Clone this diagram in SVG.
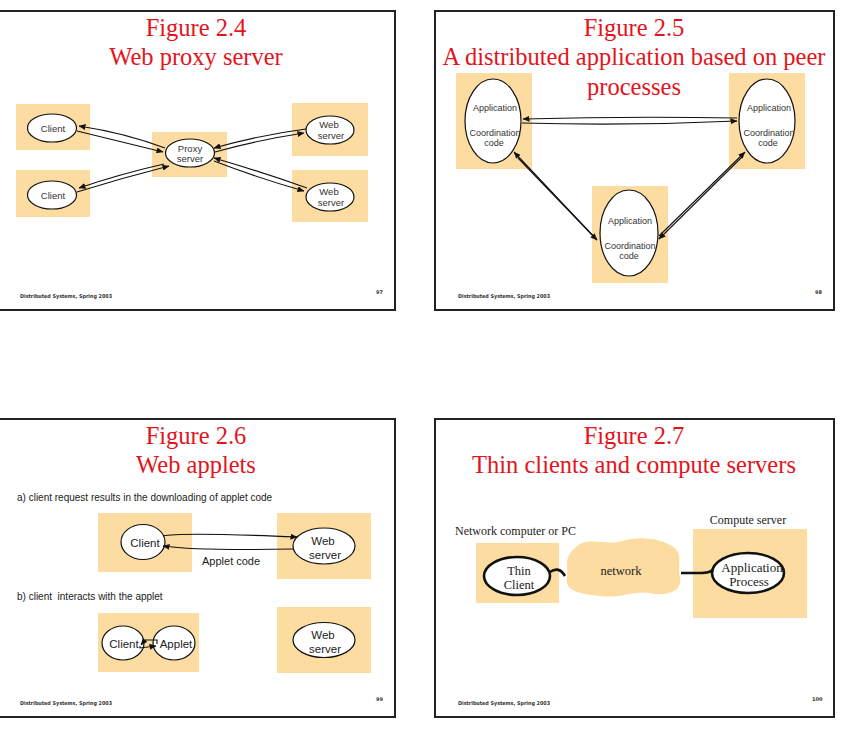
<svg xmlns="http://www.w3.org/2000/svg" width="844" height="739" viewBox="0 0 844 739">
<style>
.frame{fill:#fff;stroke:#222;stroke-width:2}
.box{fill:#FCDCA0}
.title{font-family:"Liberation Serif",serif;font-size:24.5px;fill:#E4141C;text-anchor:middle}
.lbl{font-family:"Liberation Sans",Arial,sans-serif;font-size:9.5px;fill:#333;text-anchor:middle}
.lbl2{font-family:"Liberation Sans",Arial,sans-serif;font-size:9px;fill:#333;text-anchor:middle}
.lbl3{font-family:"Liberation Sans",Arial,sans-serif;font-size:11.5px;fill:#222;text-anchor:middle}
.txt{font-family:"Liberation Sans",Arial,sans-serif;font-size:10px;fill:#222}
.serif{font-family:"Liberation Serif",serif;font-size:12px;fill:#222}
.foot{font-family:"DejaVu Sans",sans-serif;font-size:5.3px;font-weight:bold;fill:#333}
.pg{font-family:"DejaVu Sans",sans-serif;font-size:5px;font-weight:bold;fill:#333}
.ell{fill:#fff;stroke:#111;stroke-width:1.2}
.ellT{fill:#fff;stroke:#111;stroke-width:2.6}
.arr{fill:none;stroke:#111;stroke-width:1.1;marker-end:url(#ah)}
.wire{fill:none;stroke:#111;stroke-width:2.6}
</style>
<defs>
<marker id="ah" markerUnits="userSpaceOnUse" markerWidth="7" markerHeight="6" refX="6.5" refY="3" orient="auto">
<path d="M0,0 L7,3 L0,6 Z" fill="#111"/>
</marker>
</defs>

<!-- Slide 1 -->
<g id="slide1">
<rect class="frame" x="-2" y="11" width="397" height="299"/>
<text class="title" x="196" y="36">Figure 2.4</text>
<text class="title" x="196" y="65">Web proxy server</text>
<text class="foot" x="20" y="298" textLength="92" lengthAdjust="spacingAndGlyphs">Distributed Systems, Spring 2003</text>
<text class="pg" x="376" y="294">97</text>
</g>
<g id="s1-client1">
<rect class="box" x="16" y="104" width="74" height="46"/>
<ellipse class="ell" cx="52" cy="128" rx="24.5" ry="14"/>
<text class="lbl" x="53" y="131.5">Client</text>
</g>
<g id="s1-client2">
<rect class="box" x="16" y="170" width="74" height="47"/>
<ellipse class="ell" cx="52" cy="195" rx="24.5" ry="14"/>
<text class="lbl" x="53" y="198.5">Client</text>
</g>
<g id="s1-proxy">
<rect class="box" x="152" y="132" width="75" height="45"/>
<ellipse class="ell" cx="190" cy="153" rx="24.5" ry="14"/>
<text class="lbl" x="190" y="152">Proxy</text>
<text class="lbl" x="190" y="162">server</text>
</g>
<g id="s1-web1">
<rect class="box" x="292" y="103" width="76" height="53"/>
<ellipse class="ell" cx="330" cy="130" rx="24" ry="14"/>
<text class="lbl" x="329" y="128">Web</text>
<text class="lbl" x="331" y="139">server</text>
</g>
<g id="s1-web2">
<rect class="box" x="292" y="170" width="76" height="52"/>
<ellipse class="ell" cx="330" cy="197" rx="24" ry="14"/>
<text class="lbl" x="329" y="195">Web</text>
<text class="lbl" x="331" y="206">server</text>
</g>
<g id="s1-connectors">
<path class="arr" d="M165,148 Q125,133 79,126"/>
<path class="arr" d="M77,131 Q118,141 163,152"/>
<path class="arr" d="M164,164 Q120,174 79,188"/>
<path class="arr" d="M77,192 Q122,178 169,166"/>
<path class="arr" d="M306,129 Q260,135 214,148"/>
<path class="arr" d="M215,152 Q258,140 304,133"/>
<path class="arr" d="M307,188 Q262,172 214,158"/>
<path class="arr" d="M214,161 Q258,178 304,191"/>
</g>

<!-- Slide 2 -->
<g id="slide2">
<rect class="frame" x="435" y="11" width="399" height="299"/>
<text class="title" x="634" y="36">Figure 2.5</text>
<text class="title" x="634" y="65">A distributed application based on peer</text>
<text class="title" x="634" y="95">processes</text>
<text class="foot" x="458" y="298" textLength="92" lengthAdjust="spacingAndGlyphs">Distributed Systems, Spring 2003</text>
<text class="pg" x="815" y="294">98</text>
</g>
<g id="s2-left">
<rect class="box" x="456" y="73" width="76" height="96"/>
<ellipse class="ell" cx="493" cy="121" rx="28" ry="42"/>
<text class="lbl2" x="495" y="111">Application</text>
<text class="lbl2" x="495" y="136">Coordination</text>
<text class="lbl2" x="494" y="146">code</text>
</g>
<g id="s2-right">
<rect class="box" x="729" y="73" width="76" height="96"/>
<ellipse class="ell" cx="767" cy="121" rx="28" ry="42"/>
<text class="lbl2" x="769" y="111">Application</text>
<text class="lbl2" x="769" y="136">Coordination</text>
<text class="lbl2" x="768" y="146">code</text>
</g>
<g id="s2-bottom">
<rect class="box" x="592" y="186" width="76" height="97"/>
<ellipse class="ell" cx="629" cy="233" rx="29" ry="43"/>
<text class="lbl2" x="630" y="224">Application</text>
<text class="lbl2" x="630" y="249">Coordination</text>
<text class="lbl2" x="629" y="259">code</text>
</g>
<g id="s2-connectors">
<path class="arr" d="M737,118 Q630,116 523,119"/>
<path class="arr" d="M522,123 Q630,126 737,121"/>
<path class="arr" d="M597,240 L514,152"/>
<path class="arr" d="M518,158 L597,240"/>
<path class="arr" d="M659,236 L745,152"/>
<path class="arr" d="M742,157 L659,239"/>
</g>

<!-- Slide 3 -->
<g id="slide3">
<rect class="frame" x="-2" y="419" width="397" height="298"/>
<text class="title" x="196" y="444">Figure 2.6</text>
<text class="title" x="196" y="473">Web applets</text>
<text class="txt" x="17" y="501">a) client request results in the downloading of applet code</text>
<text class="txt" x="17" y="600" xml:space="preserve">b) client  interacts with the applet</text>
<text class="txt" x="202" y="565" style="font-size:11px">Applet code</text>
<text class="foot" x="20" y="705" textLength="92" lengthAdjust="spacingAndGlyphs">Distributed Systems, Spring 2003</text>
<text class="pg" x="376" y="701">99</text>
</g>
<g id="s3-client-a">
<rect class="box" x="98" y="513" width="94" height="59"/>
<ellipse class="ell" cx="143" cy="542" rx="22" ry="17.5"/>
<text class="lbl3" x="145" y="547">Client</text>
</g>
<g id="s3-web-a">
<rect class="box" x="277" y="513" width="94" height="66"/>
<ellipse class="ell" cx="324" cy="546" rx="31" ry="18"/>
<text class="lbl3" x="323" y="545">Web</text>
<text class="lbl3" x="325" y="559">server</text>
</g>
<g id="s3-client-b">
<rect class="box" x="98" y="613" width="101" height="59"/>
<ellipse class="ell" cx="123" cy="643" rx="21" ry="17"/>
<ellipse class="ell" cx="174" cy="643" rx="21" ry="17"/>
<text class="lbl3" x="124" y="648">Client</text>
<text class="lbl3" x="176" y="648">Applet</text>
</g>
<g id="s3-web-b">
<rect class="box" x="277" y="607" width="94" height="66"/>
<ellipse class="ell" cx="324" cy="640" rx="31" ry="17.5"/>
<text class="lbl3" x="323" y="639">Web</text>
<text class="lbl3" x="325" y="653">server</text>
</g>
<g id="s3-connectors">
<path class="arr" d="M163,536 Q180,532 297,537"/>
<path class="arr" d="M293,549 Q200,551 163,546"/>
<path class="arr" d="M157,644 L157,640 L145,640 L141,645"/>
<path class="arr" d="M140,646 L140,648 L156,646"/>
</g>

<!-- Slide 4 -->
<g id="slide4">
<rect class="frame" x="435" y="419" width="399" height="298"/>
<text class="title" x="634" y="444">Figure 2.7</text>
<text class="title" x="634" y="473">Thin clients and compute servers</text>
<text class="serif" x="455" y="535">Network computer or PC</text>
<text class="serif" x="748" y="524" text-anchor="middle">Compute server</text>
<text class="foot" x="458" y="705" textLength="92" lengthAdjust="spacingAndGlyphs">Distributed Systems, Spring 2003</text>
<text class="pg" x="812" y="701">100</text>
</g>
<g id="s4-thin">
<rect class="box" x="476" y="543" width="83" height="60"/>
<ellipse class="ellT" cx="517" cy="576" rx="33" ry="19"/>
<text class="serif" x="519" y="575" text-anchor="middle" style="font-size:12.5px">Thin</text>
<text class="serif" x="519" y="589" text-anchor="middle" style="font-size:12.5px">Client</text>
</g>
<g id="s4-network">
<path class="box" d="M576,547 C588,536 606,546 622,541 C642,535 662,540 672,546 C684,553 677,566 680,577 C683,591 667,597 650,593 C634,590 620,599 600,596 C580,594 564,591 567,577 C569,567 562,559 576,547 Z"/>
<text class="serif" x="621" y="575" text-anchor="middle" style="font-size:12.5px">network</text>
</g>
<g id="s4-app">
<rect class="box" x="693" y="529" width="114" height="89"/>
<ellipse class="ellT" cx="748" cy="573" rx="36" ry="20"/>
<text class="serif" x="752" y="572" text-anchor="middle" style="font-size:13px">Application</text>
<text class="serif" x="749" y="586" text-anchor="middle" style="font-size:13px">Process</text>
</g>
<g id="s4-connectors">
<path class="wire" d="M550,572 C556,568 561,569 565,576"/>
<path class="wire" d="M681,573 L702,573 C707,573 710,572 713,570"/>
</g>
</svg>
